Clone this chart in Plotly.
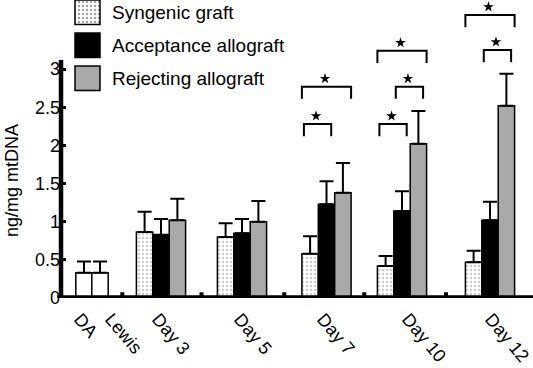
import plotly.graph_objects as go

# ---------------- data ----------------
control_labels = ["DA", "Lewis"]
control_values = [0.33, 0.33]
control_err = [0.15, 0.15]

day_labels = ["Day 3", "Day 5", "Day 7", "Day 10", "Day 12"]
series_names = ["Syngenic graft", "Acceptance allograft", "Rejecting allograft"]
syngenic = [0.865, 0.80, 0.58, 0.42, 0.47]
syngenic_err = [0.265, 0.18, 0.23, 0.13, 0.15]
acceptance = [0.83, 0.85, 1.23, 1.14, 1.02]
acceptance_err = [0.205, 0.185, 0.30, 0.26, 0.24]
rejecting = [1.02, 1.00, 1.38, 2.02, 2.52]
rejecting_err = [0.28, 0.27, 0.39, 0.43, 0.42]

# significance brackets: (day index, first series, last series, bracket level)
brackets = [
    (2, 0, 1, 2.28), (2, 0, 2, 2.77),
    (3, 0, 1, 2.28), (3, 1, 2, 2.77), (3, 0, 2, 3.24),
    (4, 1, 2, 3.25), (4, 0, 2, 3.71),
]

y_ticks = [0, 0.5, 1, 1.5, 2, 2.5, 3]
y_tick_text = ["0", "0.5", "1", "1.5", "2", "2.5", "3"]

# ---------------- layout helpers (axis units) ----------------
BAR_W = 16.4
control_x = [23, 39]
day_center = [100, 181, 265.5, 341, 429]
label_pos = [19, 50, 97, 179, 262, 347, 430]
X_RANGE = [0, 472]
Y_RANGE = [0, 298 / 76.3]

FONT = "Liberation Sans, Arial, sans-serif"
GRAY = "#a9a9a9"
series_vals = [syngenic, acceptance, rejecting]
series_errs = [syngenic_err, acceptance_err, rejecting_err]


def bar_x(s, g):
    return day_center[g] + (s - 1) * BAR_W


fig = go.Figure()

# control bars (DA, Lewis)
fig.add_trace(go.Bar(
    x=control_x, y=control_values, width=BAR_W,
    marker=dict(color="white", line=dict(color="black", width=1.5)),
    error_y=dict(type="data", symmetric=False, array=control_err,
                 arrayminus=[0] * len(control_err), color="black",
                 thickness=2, width=7),
    showlegend=False, hoverinfo="skip"))

styles = [
    dict(color="white", line=dict(color="black", width=1.5),
         pattern=dict(shape=".", fgcolor="#9a9a9a", bgcolor="white",
                      size=4, solidity=0.3)),
    dict(color="black", line=dict(color="black", width=1.5)),
    dict(color=GRAY, line=dict(color="black", width=1.5)),
]

for s in range(3):
    fig.add_trace(go.Bar(
        x=[bar_x(s, g) for g in range(len(day_labels))],
        y=series_vals[s], width=BAR_W, name=series_names[s],
        marker=styles[s],
        error_y=dict(type="data", symmetric=False, array=series_errs[s],
                     arrayminus=[0] * len(series_errs[s]), color="black",
                     thickness=2, width=7),
        showlegend=False, hoverinfo="skip"))

# small separator marks between groups
group_edges = [(control_x[-1] + BAR_W / 2, bar_x(0, 0) - BAR_W / 2)]
for g in range(len(day_labels) - 1):
    group_edges.append((bar_x(2, g) + BAR_W / 2, bar_x(0, g + 1) - BAR_W / 2))
sep_x = [(a + b) / 2 for a, b in group_edges]
fig.add_trace(go.Bar(x=sep_x, y=[0.075] * len(sep_x), width=4,
                     marker=dict(color="black", line=dict(width=0)),
                     showlegend=False, hoverinfo="skip"))

# significance brackets and stars
LEG = 0.16
star_x, star_y = [], []
for g, a, b, lvl in brackets:
    full = (b - a) == 2
    x0 = bar_x(a, g) - BAR_W / 2 + (0 if full else 2)
    x1 = bar_x(b, g) + BAR_W / 2 - (0 if full else 3.5)
    fig.add_trace(go.Scatter(
        x=[x0, x0, x1, x1], y=[lvl - LEG, lvl, lvl, lvl - LEG],
        mode="lines", line=dict(color="black", width=2),
        showlegend=False, hoverinfo="skip"))
    star_x.append((x0 + x1) / 2 - 1.5)
    star_y.append(lvl + 0.105)
fig.add_trace(go.Scatter(
    x=star_x, y=star_y, mode="markers",
    marker=dict(symbol="star", size=8, color="black"),
    showlegend=False, hoverinfo="skip"))

# custom legend drawn on overlay axes
fig.add_trace(go.Bar(
    x=[1, 1, 1], y=[0, 1, 2], base=0, orientation="h", width=0.742,
    xaxis="x2", yaxis="y2",
    marker=dict(color=["white", "black", GRAY],
                line=dict(color="black", width=1.5),
                pattern=dict(shape=[".", "", ""], fgcolor="#9a9a9a",
                             size=4, solidity=0.3)),
    showlegend=False, hoverinfo="skip"))

annotations = []
for k, name in enumerate(series_names):
    annotations.append(dict(
        text=name, xref="paper", x=(110 - 61) / 472, xanchor="left",
        yref="y2", y=k, yanchor="middle", showarrow=False,
        font=dict(family=FONT, size=19, color="black")))

annotations.append(dict(
    text="ng/mg mtDNA", textangle=-90, xref="paper", x=(12 - 61) / 472,
    xanchor="center", yref="paper", y=(298 - 181) / 298, yanchor="middle",
    showarrow=False, font=dict(family=FONT, size=18, color="black")))

shapes = [
    dict(type="line", xref="paper", x0=0, x1=0, yref="y", y0=0, y1=3.12,
         line=dict(color="black", width=4.5), layer="above"),
    dict(type="line", xref="paper", x0=-0.008, x1=1, yref="y", y0=0, y1=0,
         line=dict(color="black", width=5.5), layer="above"),
]

fig.update_layout(
    width=533, height=368,
    margin=dict(l=61, r=0, t=0, b=70, autoexpand=False),
    paper_bgcolor="white", plot_bgcolor="white",
    barmode="overlay", showlegend=False,
    font=dict(family=FONT, size=18, color="black"),
    xaxis=dict(range=X_RANGE, showgrid=False, zeroline=False, showline=False,
               automargin=False, ticklabeloverflow="allow",
               ticklabelstandoff=6,
               tickmode="array", tickvals=label_pos,
               ticktext=control_labels + day_labels, tickangle=50,
               ticks="", tickfont=dict(family=FONT, size=18, color="black")),
    yaxis=dict(range=Y_RANGE, showgrid=False, zeroline=False, showline=False,
               automargin=False,
               tickmode="array", tickvals=y_ticks, ticktext=y_tick_text,
               ticks="inside", ticklen=5, tickwidth=3, tickcolor="black",
               tickfont=dict(family=FONT, size=18, color="black")),
    xaxis2=dict(overlaying="x", range=[(61 - 75) / 25, (533 - 75) / 25],
                visible=False, showgrid=False, zeroline=False),
    yaxis2=dict(overlaying="y", range=[(298 - 12.3) / 33, -12.3 / 33],
                visible=False, showgrid=False, zeroline=False),
    shapes=shapes, annotations=annotations,
)

fig.write_html(
    "out.html",
    config={"displayModeBar": False},
    post_script="document.body.style.margin='0';document.body.style.padding='0';",
)
